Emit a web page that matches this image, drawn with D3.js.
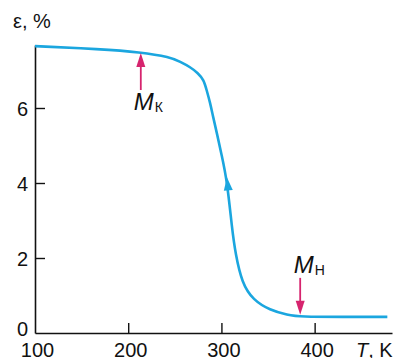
<!DOCTYPE html>
<html>
<head>
<meta charset="utf-8">
<script src="https://cdn.jsdelivr.net/npm/d3@7"></script>
<style>
  body { margin: 0; background: #fff; }
  text { font-family: "Liberation Sans", Arial, sans-serif; fill: #111; }
</style>
</head>
<body>
<script>
'use strict';

// curve: temperature (K) and strain (%)
const temps   = [100, 170, 213, 245, 256, 266, 275, 281, 284, 288, 291, 295.5, 300, 306, 311.5, 315, 322, 334, 352, 371, 385, 430, 478];
const strains = [7.65, 7.57, 7.49, 7.36, 7.23, 7.10, 6.93, 6.75, 6.49, 6.13, 5.77, 5.29, 4.77, 4.08, 2.75, 2.13, 1.33, 0.88, 0.61, 0.48, 0.43, 0.43, 0.43];

const xTicks = [100, 200, 300, 400];
const yTicks = [0, 2, 4, 6];

// annotation arrows: [T, from, to] and their labels
const markNames = ['M', 'M'];
const markSubs  = ['К', 'Н'];
const markArrows = [[213.5, 6.48, 7.47], [384.5, 1.47, 0.49]];

(function() {
  const width = 395, height = 358;
  const svg = d3.select('body').append('svg')
    .attr('width', width)
    .attr('height', height);

  const x = d3.scaleLinear().domain([100, 483]).range([35, 392]);
  const y = d3.scaleLinear().domain([0, 7.68]).range([333, 45]);

  // x axis, ticks pointing up
  const xAxis = svg.append('g')
    .attr('transform', 'translate(0,' + y(0) + ')')
    .call(d3.axisBottom(x).tickValues(xTicks).tickSize(-10).tickSizeOuter(0).tickPadding(10));
  xAxis.select('.domain').attr('stroke', '#111').attr('stroke-width', 1.6);
  xAxis.selectAll('.tick line').attr('stroke', '#111').attr('stroke-width', 1.4)
    .filter(d => d === 100).remove();
  xAxis.selectAll('.tick text').attr('font-size', 20).attr('dx', 2)
    .style('font-family', '"Liberation Sans", Arial, sans-serif').attr('fill', '#111');

  // y axis, ticks pointing right
  const yAxis = svg.append('g')
    .attr('transform', 'translate(' + x(100) + ',0)')
    .call(d3.axisLeft(y).tickValues(yTicks).tickSize(-10).tickSizeOuter(0).tickPadding(7));
  yAxis.select('.domain').attr('stroke', '#111').attr('stroke-width', 1.6);
  yAxis.selectAll('.tick line').attr('stroke', '#111').attr('stroke-width', 1.4)
    .filter(d => d === 0).remove();
  yAxis.selectAll('.tick text').attr('font-size', 20)
    .style('font-family', '"Liberation Sans", Arial, sans-serif').attr('fill', '#111')
    .attr('dy', d => d === 0 ? '0.1em' : '0.36em');

  // axis titles
  svg.append('text')
    .attr('x', 13)
    .attr('y', 28)
    .attr('font-size', 20)
    .text('ε, %');

  const tLabel = svg.append('text')
    .attr('x', 356)
    .attr('y', 357)
    .attr('font-size', 20);
  tLabel.append('tspan').attr('font-style', 'italic').text('T');
  tLabel.append('tspan').text(', K');

  // the curve
  const pts = temps.map((t, i) => [t, strains[i]]);
  const line = d3.line()
    .x(d => x(d[0]))
    .y(d => y(d[1]))
    .curve(d3.curveBasis);

  svg.append('path')
    .datum(pts)
    .attr('d', line)
    .attr('fill', 'none')
    .attr('stroke', '#1ba6df')
    .attr('stroke-width', 2.6);

  // arrowhead on the curve, pointing up along it
  const ah = [x(306), y(4.15)];
  const prev = [x(311.5), y(2.75)];
  const ang = Math.atan2(ah[1] - prev[1], ah[0] - prev[0]) * 180 / Math.PI;
  svg.append('path')
    .attr('d', 'M0,0 L-13,-4.5 L-13,4.5 Z')
    .attr('fill', '#1ba6df')
    .attr('transform', 'translate(' + ah[0] + ',' + ah[1] + ') rotate(' + ang + ')');

  // annotation arrows
  markArrows.forEach((a, i) => {
    const ax = x(a[0]);
    const y0 = y(a[1]), y1 = y(a[2]);
    const dir = y1 < y0 ? 1 : -1;
    svg.append('line')
      .attr('x1', ax).attr('x2', ax)
      .attr('y1', y0).attr('y2', y1 + dir * 10)
      .attr('stroke', '#d6246e')
      .attr('stroke-width', 1.8);
    svg.append('path')
      .attr('d', 'M' + ax + ',' + y1 + ' L' + (ax - 4.5) + ',' + (y1 + dir * 14) +
                 ' L' + (ax + 4.5) + ',' + (y1 + dir * 14) + ' Z')
      .attr('fill', '#d6246e');
  });

  // labels for the arrows
  const labelPos = [[x(206), y(5.95)], [x(377.5), y(1.6)]];
  markNames.forEach((n, i) => {
    const t = svg.append('text')
      .attr('x', labelPos[i][0])
      .attr('y', labelPos[i][1])
      .attr('font-size', 24);
    t.append('tspan').attr('font-style', 'italic').text(n);
    t.append('tspan').attr('font-size', 14).attr('dx', 1).attr('dy', 2).text(markSubs[i]);
  });
})();
</script>
</body>
</html>
